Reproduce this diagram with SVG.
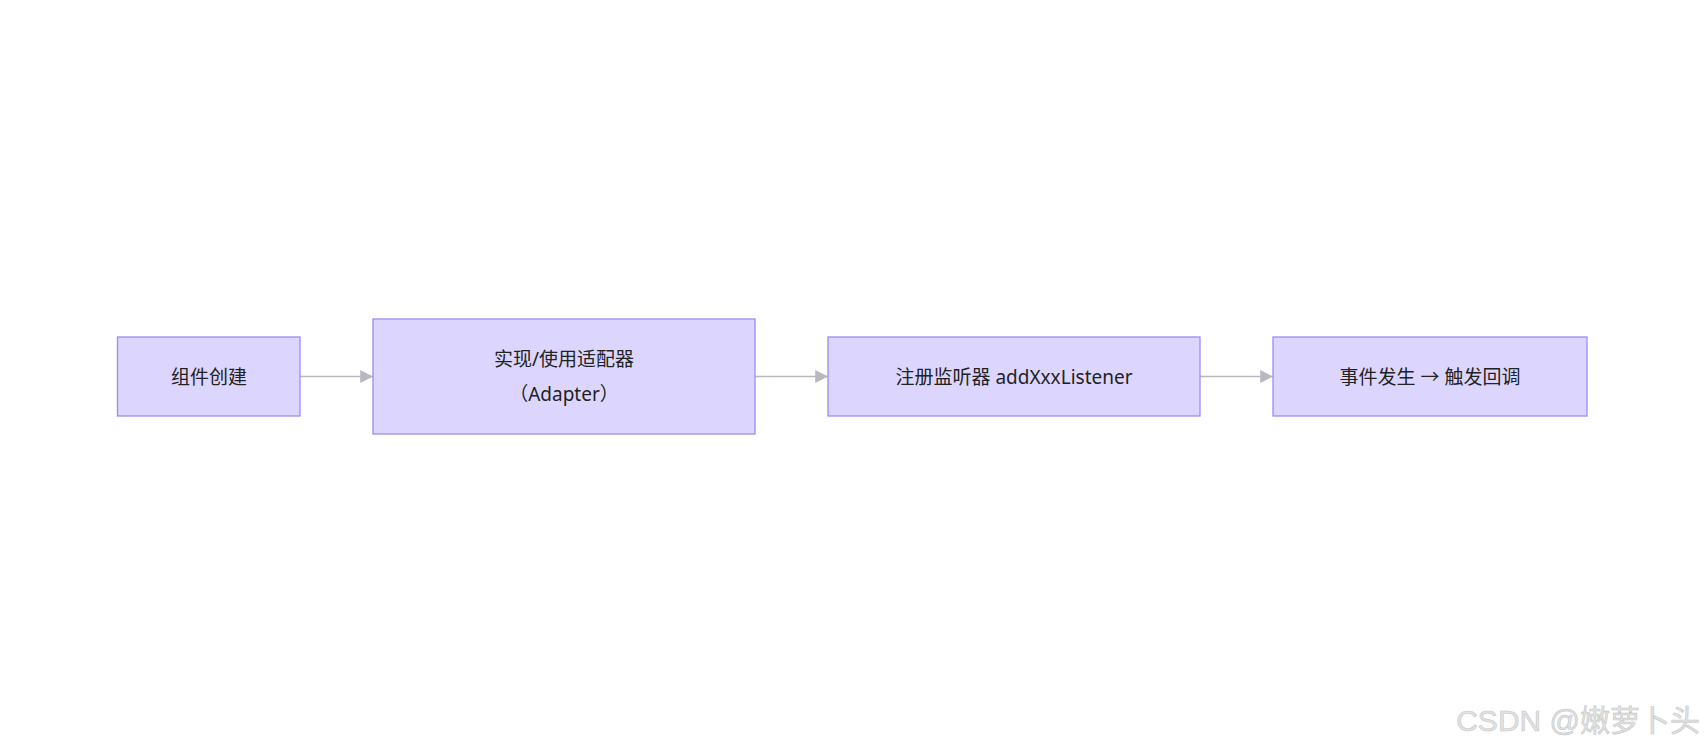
<svg xmlns="http://www.w3.org/2000/svg" width="1706" height="753" viewBox="0 0 1706 753">
<style>
.n{fill:#dcd6ff;stroke:#9b8cf5;stroke-width:1.3}
.t{font-family:"Noto Sans","Noto Sans CJK SC",sans-serif;font-size:19px;fill:#222;text-anchor:middle;dominant-baseline:central}
.e{stroke:#b8b8c0;stroke-width:1.6;fill:none}
.w{font-family:"Liberation Sans","Noto Sans CJK SC",sans-serif;font-size:30px;fill:#e2e2e2;stroke:#c8c8c8;stroke-width:0.6}
</style>
<defs><marker id="a" viewBox="0 0 10 10" refX="10" refY="5" markerWidth="8" markerHeight="8" orient="auto"><path d="M0,0L10,5L0,10z" fill="#b8b8c0"/></marker></defs>
<rect width="1706" height="753" fill="#fff"/>
<g id="edges">
<line class="e" x1="300" y1="376.5" x2="373" y2="376.5" marker-end="url(#a)"/>
<line class="e" x1="755" y1="376.5" x2="828" y2="376.5" marker-end="url(#a)"/>
<line class="e" x1="1200" y1="376.5" x2="1273" y2="376.5" marker-end="url(#a)"/>
</g>
<g id="n1"><rect class="n" x="117.5" y="337" width="182.5" height="79"/><text class="t" x="209" y="376.5">组件创建</text></g>
<g id="n2"><rect class="n" x="373" y="319" width="382" height="115"/><text class="t" x="564" y="359">实现/使用适配器</text><text class="t" x="564" y="394">（Adapter）</text></g>
<g id="n3"><rect class="n" x="828" y="337" width="372" height="79"/><text class="t" x="1014" y="376.5">注册监听器 addXxxListener</text></g>
<g id="n4"><rect class="n" x="1273" y="337" width="314" height="79"/><text class="t" x="1430" y="376.5">事件发生 → 触发回调</text></g>
<text class="w" x="1700" y="731" text-anchor="end">CSDN @嫩萝卜头</text>
</svg>
